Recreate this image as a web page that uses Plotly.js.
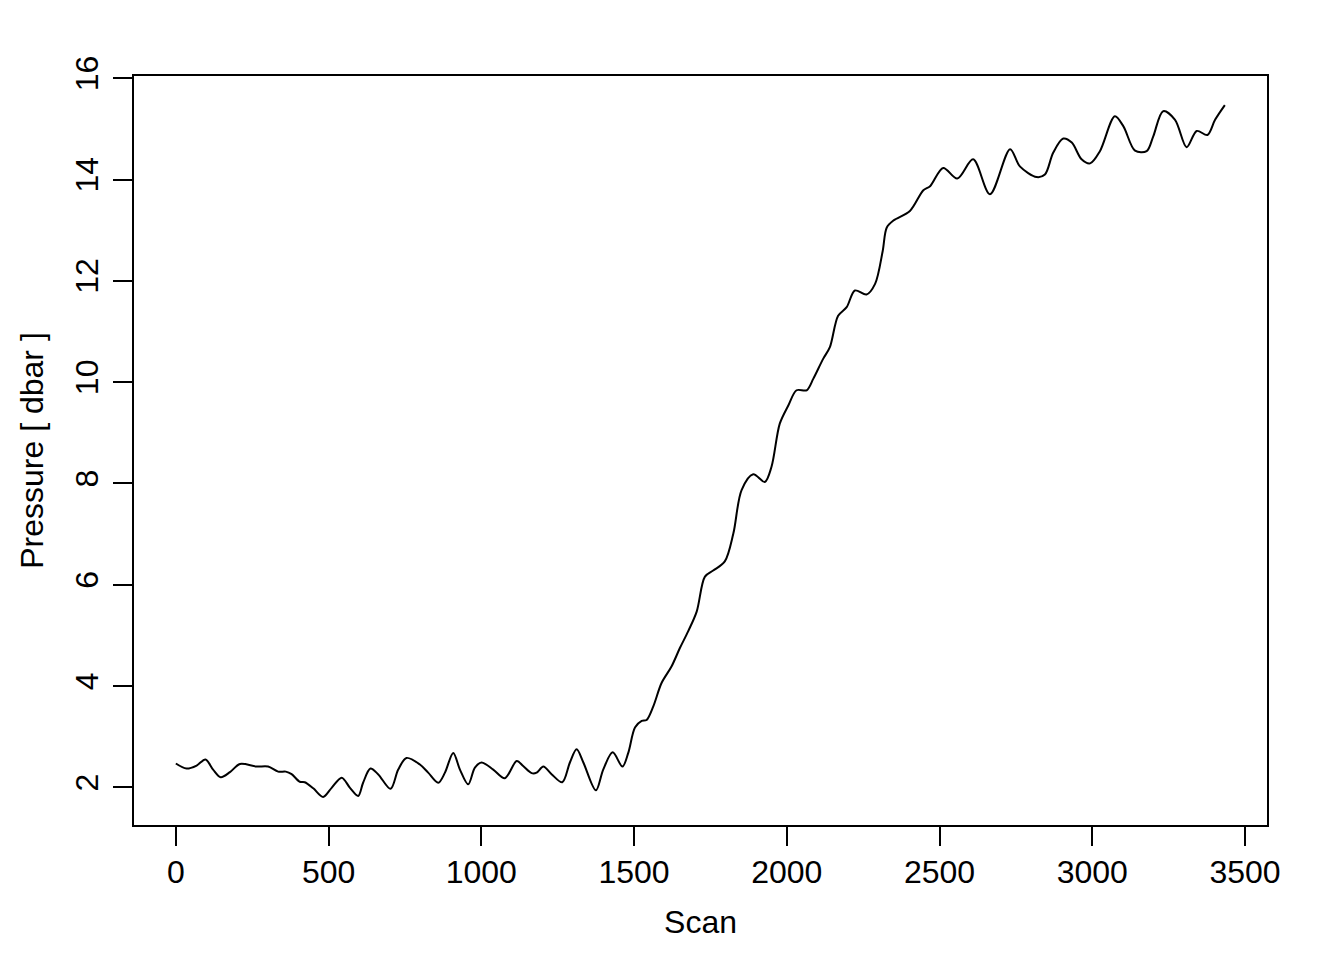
<!DOCTYPE html>
<html>
<head>
<meta charset="utf-8">
<script src="https://cdn.plot.ly/plotly-3.0.1.min.js"></script>
<style>html,body{margin:0;padding:0;background:#fff;}#plot{width:1344px;height:960px;}</style>
</head>
<body>
<div id="plot"></div>
<script>
const scan = [0,35,68,97,122,147,177,210,264,302,335,360,379,406,422,450,482,510,543,570,597,613,637,662,703,728,755,799,826,859,881,908,930,957,979,1001,1039,1077,1116,1137,1165,1181,1203,1230,1265,1290,1312,1334,1375,1399,1430,1462,1481,1503,1525,1541,1563,1590,1623,1650,1677,1705,1732,1759,1797,1825,1852,1890,1928,1950,1977,2005,2032,2065,2087,2119,2141,2168,2196,2223,2261,2289,2314,2327,2349,2403,2447,2469,2512,2558,2610,2665,2731,2763,2818,2845,2872,2905,2933,2965,2993,3025,3074,3102,3140,3178,3200,3232,3271,3309,3342,3377,3402,3434];
const pressure = [2.47,2.37,2.43,2.55,2.35,2.20,2.30,2.46,2.41,2.41,2.31,2.31,2.26,2.11,2.10,1.98,1.81,1.99,2.19,1.99,1.83,2.09,2.37,2.26,1.97,2.35,2.58,2.45,2.29,2.09,2.29,2.68,2.35,2.06,2.39,2.49,2.35,2.18,2.52,2.42,2.28,2.29,2.41,2.26,2.10,2.49,2.75,2.49,1.94,2.35,2.69,2.41,2.68,3.18,3.31,3.33,3.60,4.06,4.39,4.75,5.08,5.47,6.16,6.28,6.46,7.01,7.87,8.18,8.03,8.33,9.18,9.54,9.84,9.84,10.07,10.46,10.69,11.31,11.48,11.81,11.73,11.94,12.59,13.05,13.19,13.38,13.79,13.87,14.23,14.02,14.40,13.71,14.60,14.26,14.05,14.10,14.53,14.81,14.73,14.40,14.32,14.56,15.25,15.05,14.57,14.56,14.86,15.35,15.18,14.64,14.96,14.88,15.18,15.47];
const xTicks = [0,500,1000,1500,2000,2500,3000,3500];
const yTicks = [2,4,6,8,10,12,14,16];

const font = {family: '"Liberation Sans", Arial, Helvetica, sans-serif', size: 32, color: '#000'};

const trace = {
  x: scan, y: pressure, type: 'scatter', mode: 'lines',
  line: {color: '#000', width: 2, shape: 'spline', smoothing: 0.9},
  hoverinfo: 'x+y'
};

const axisCommon = {
  showgrid: false, zeroline: false, showline: true, mirror: true,
  linecolor: '#000', linewidth: 2,
  ticks: 'outside', ticklen: 19, tickwidth: 2, tickcolor: '#000',
  tickfont: font, automargin: false
};

const layout = {
  width: 1344, height: 960,
  margin: {l: 134, r: 77, t: 76, b: 135},
  paper_bgcolor: '#fff', plot_bgcolor: '#fff',
  font: font,
  showlegend: false,
  xaxis: Object.assign({}, axisCommon, {
    range: [-137, 3572], tickvals: xTicks, ticktext: xTicks.map(String),
    ticklabelstandoff: -1,
    title: {text: 'Scan', font: font, standoff: 21}
  }),
  yaxis: Object.assign({}, axisCommon, {
    range: [1.256, 16.045], tickvals: yTicks, ticktext: yTicks.map(String),
    tickangle: -90, ticklabelstandoff: 2,
    title: {text: 'Pressure [ dbar ]', font: font, standoff: 16}
  })
};

Plotly.newPlot('plot', [trace], layout, {displayModeBar: false, staticPlot: true});
</script>
</body>
</html>
